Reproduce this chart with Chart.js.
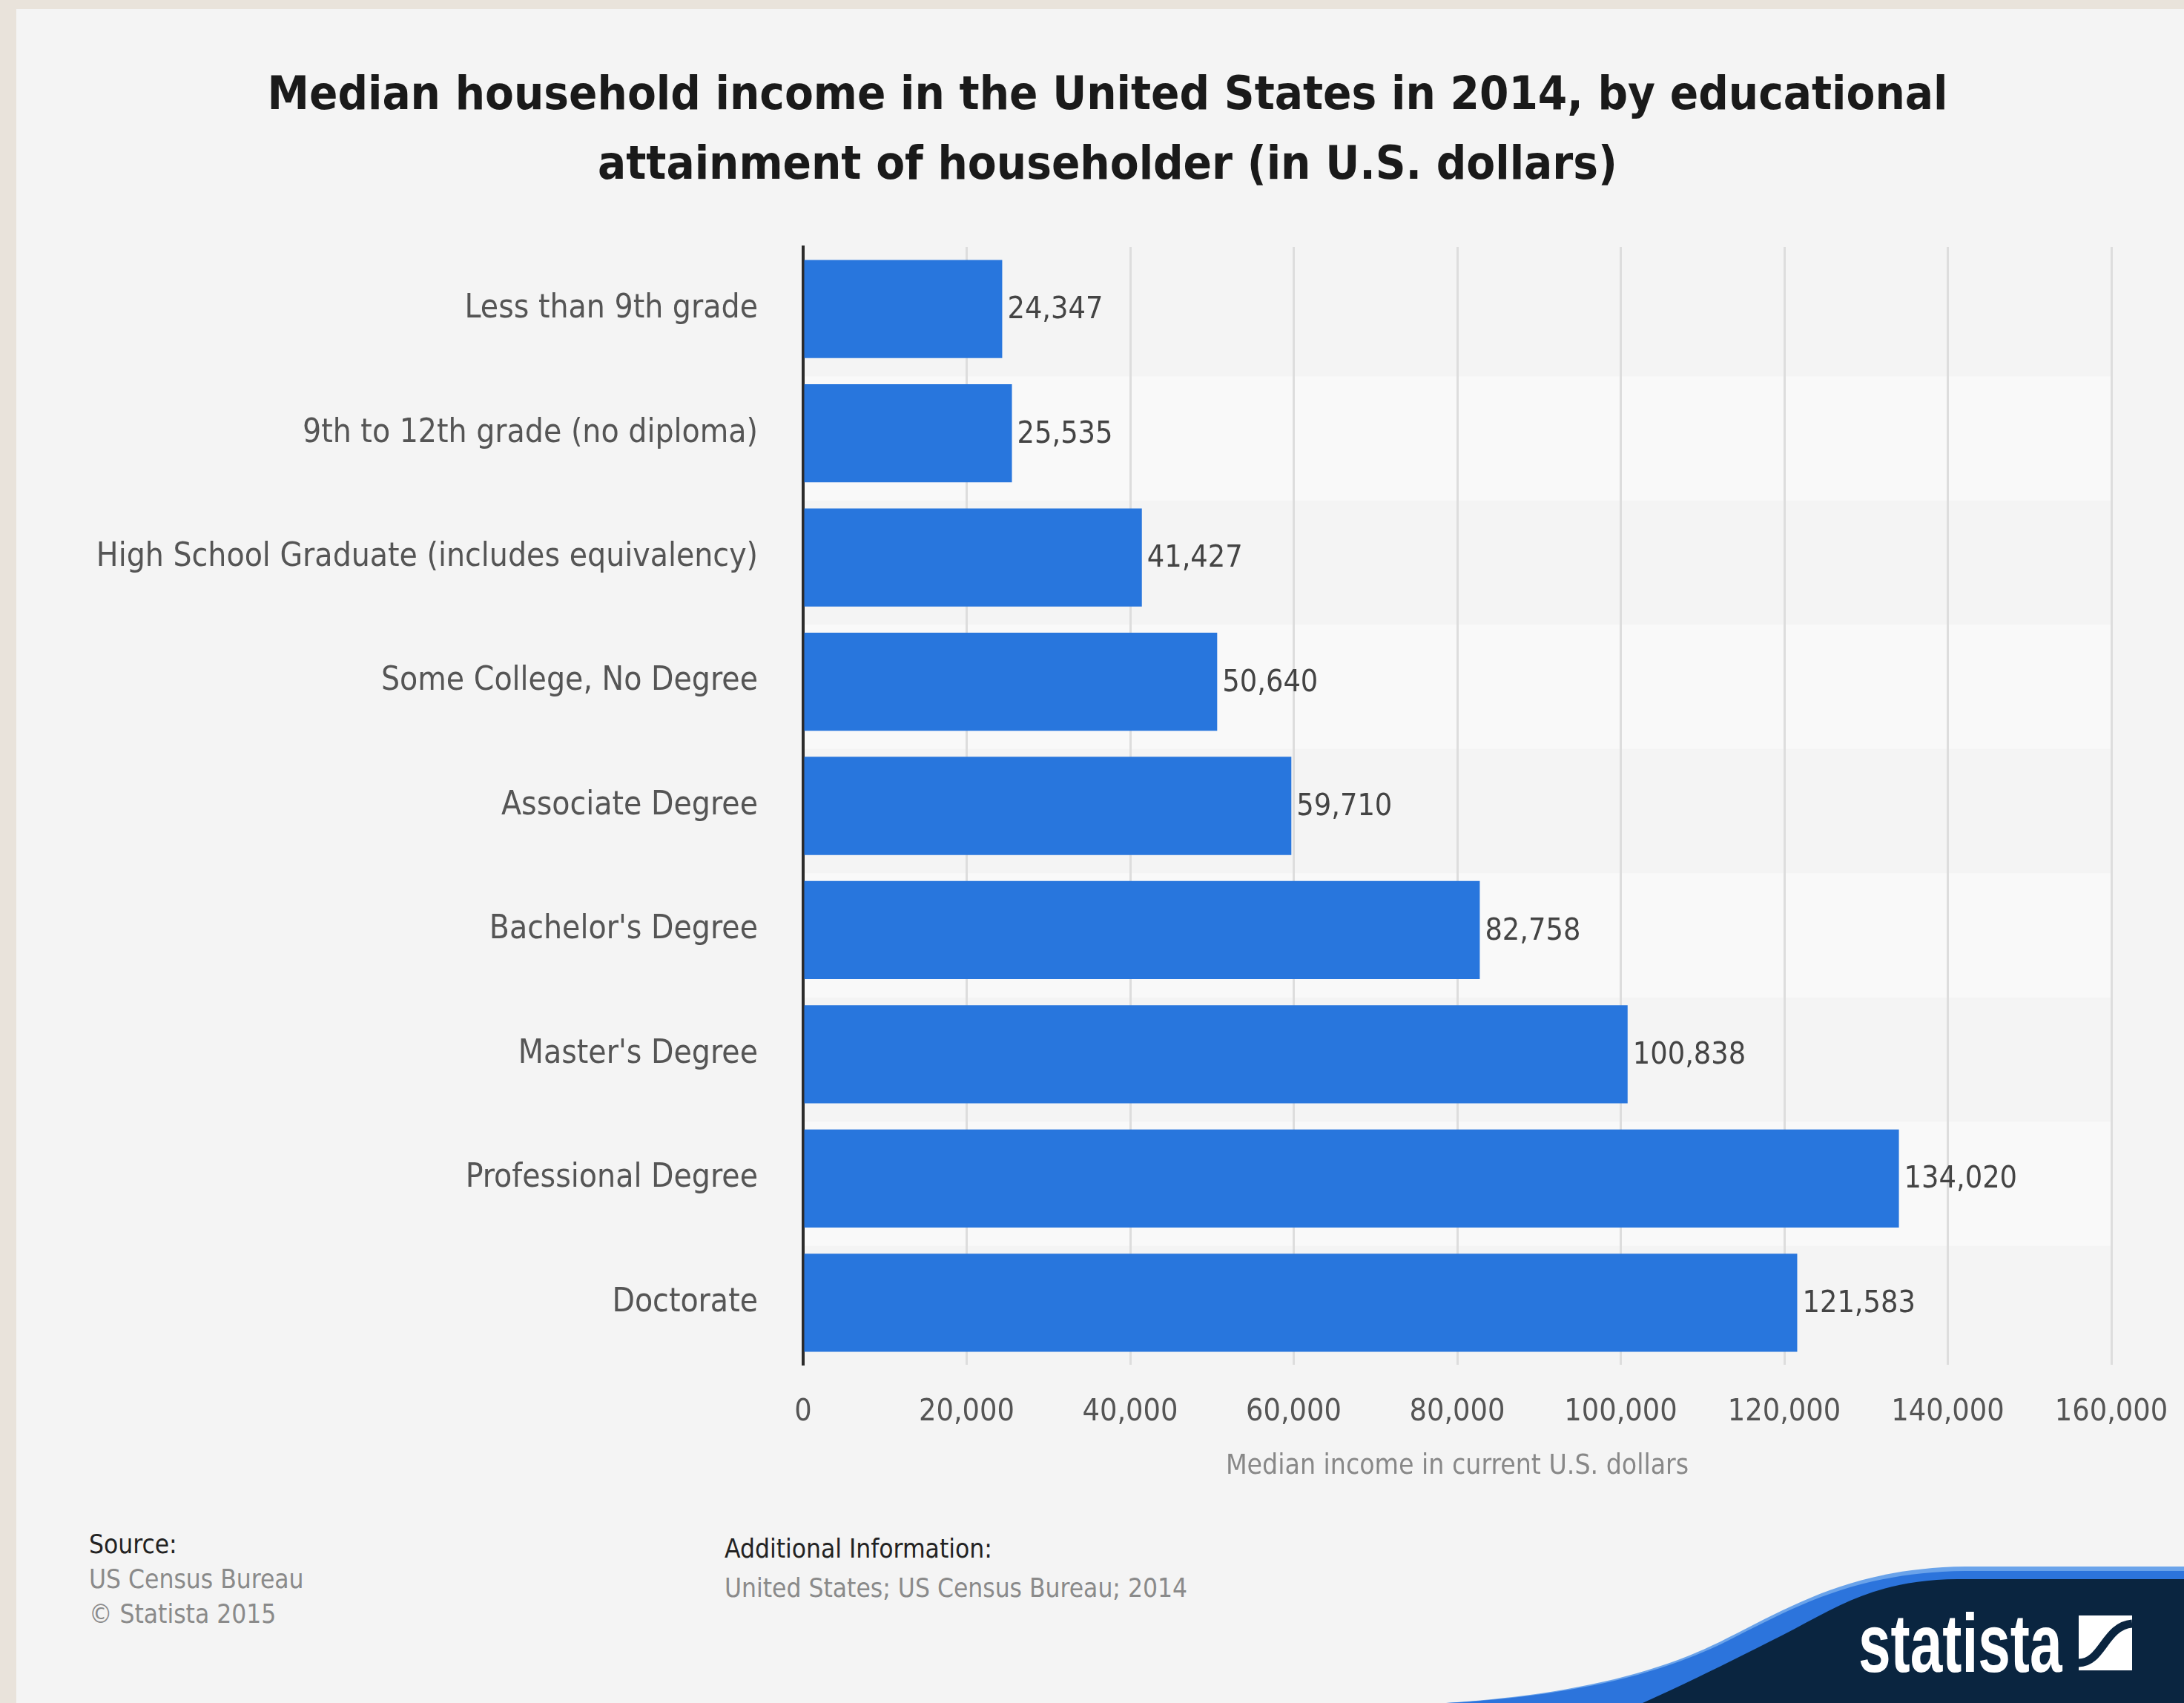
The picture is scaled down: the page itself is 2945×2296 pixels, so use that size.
<!DOCTYPE html>
<html>
<head>
<meta charset="utf-8">
<script src="https://cdn.jsdelivr.net/npm/chart.js@4.4.1/dist/chart.umd.min.js"></script>
<style>
  html, body { margin: 0; padding: 0; }
  body {
    width: 2945px; height: 2296px; position: relative; overflow: hidden;
    background: #e9e3db;
    font-family: "DejaVu Sans Condensed", "DejaVu Sans", sans-serif;
    font-stretch: condensed;
  }
  #panel { position: absolute; left: 22px; top: 12px; right: 0; bottom: 0; background: #f4f4f4; }
  #title {
    position: absolute; left: 32px; width: 2923px; top: 79px;
    text-align: center; font-weight: bold; font-size: 63px; line-height: 94px; color: #1a1a1a;
  }
  #chartBox { position: absolute; left: 0; top: 248px; width: 2945px; height: 1752px; }
  .foot { position: absolute; font-size: 35px; color: #8a8a8a; white-space: nowrap; }
  .foot .head { color: #222; }
  #logo { position: absolute; left: 0; top: 0; }
  #brand {
    position: absolute; left: 2506px; top: 2160px; font-family: "Liberation Sans", Arial, sans-serif;
    font-weight: bold; font-size: 112px; line-height: 112px; color: #fff;
    transform: scaleX(0.7); transform-origin: left top; font-stretch: normal;
  }
</style>
</head>
<body>
<div id="panel"></div>
<div id="title">Median household income in the United States in 2014, by educational<br>attainment of householder (in U.S. dollars)</div>
<div id="chartBox"><canvas id="chart" width="2945" height="1752"></canvas></div>

<div class="foot" style="left:120px; top:2059px; line-height:47px;">
  <div class="head">Source:</div>
  <div>US Census Bureau</div>
  <div>© Statista 2015</div>
</div>
<div class="foot" style="left:977px; top:2062px; line-height:53px;">
  <div class="head">Additional Information:</div>
  <div>United States; US Census Bureau; 2014</div>
</div>

<svg id="logo" width="2945" height="2296" viewBox="0 0 2945 2296">
  <path d="M1950 2296 C2120 2285 2240 2255 2330 2208 C2420 2163 2500 2114 2650 2112 L2945 2112 L2945 2296 Z" fill="#6aa3ea"/>
  <path d="M1950 2296 C2120 2287 2240 2257 2330 2212 C2420 2167 2500 2120 2650 2118 L2945 2118 L2945 2296 Z" fill="#2c74dc"/>
  <path d="M2215 2296 C2290 2262 2350 2232 2420 2196 C2490 2158 2540 2130 2640 2129 L2945 2129 L2945 2296 Z" fill="#0a2540"/>
  <rect x="2803" y="2178" width="72" height="74" fill="#ffffff"/>
  <path d="M2803 2242 C2835 2242 2838 2192 2875 2189" stroke="#0a2540" stroke-width="11" fill="none"/>
</svg>
<div id="brand">statista</div>

<script>
const categories = [
  "Less than 9th grade",
  "9th to 12th grade (no diploma)",
  "High School Graduate (includes equivalency)",
  "Some College, No Degree",
  "Associate Degree",
  "Bachelor's Degree",
  "Master's Degree",
  "Professional Degree",
  "Doctorate"
];
const incomes = [24347, 25535, 41427, 50640, 59710, 82758, 100838, 134020, 121583];
const xTicks = [0, 20000, 40000, 60000, 80000, 100000, 120000, 140000, 160000];

const fontFamily = "'DejaVu Sans Condensed', 'DejaVu Sans', sans-serif";

// light stripes on every second row
const stripes = {
  id: "stripes",
  beforeDraw(chart) {
    const { ctx, chartArea } = chart;
    const band = (chartArea.bottom - chartArea.top) / categories.length;
    const y = chart.scales.y;
    ctx.save();
    ctx.fillStyle = "#f9f9f9";
    categories.forEach((c, i) => {
      if (i % 2 === 1) {
        const mid = y.getPixelForValue(i);
        ctx.fillRect(chartArea.left, mid - band / 2 + 7, chartArea.right - chartArea.left, band);
      }
    });
    ctx.restore();
  }
};

// value labels at the end of each bar
const valueLabels = {
  id: "valueLabels",
  afterDatasetsDraw(chart) {
    const ctx = chart.ctx;
    const meta = chart.getDatasetMeta(0);
    ctx.save();
    ctx.font = "41px " + fontFamily;
    ctx.fillStyle = "#444";
    ctx.textBaseline = "middle";
    ctx.textAlign = "left";
    meta.data.forEach((bar, i) => {
      ctx.fillText(incomes[i].toLocaleString("en-US"), bar.x + 7, bar.y + 2);
    });
    ctx.restore();
  }
};

new Chart(document.getElementById("chart"), {
  type: "bar",
  data: {
    labels: categories,
    datasets: [{
      data: incomes,
      backgroundColor: "#2876dd",
      borderWidth: 0,
      barPercentage: 0.79,
      categoryPercentage: 1
    }]
  },
  options: {
    indexAxis: "y",
    responsive: false,
    animation: false,
    devicePixelRatio: 1,
    layout: { padding: { top: 85, right: 98, left: 0, bottom: 0 } },
    plugins: { legend: { display: false }, tooltip: { enabled: false } },
    scales: {
      x: {
        min: 0,
        max: 160000,
        afterBuildTicks(scale) { scale.ticks = xTicks.map(v => ({ value: v })); },
        afterFit(scale) {
          scale.height = 160;
          scale.paddingLeft = 0;
          scale.paddingRight = 0;
        },
        grid: { color: "#dddddd", lineWidth: 3, drawTicks: false },
        border: { display: false },
        ticks: {
          padding: 40,
          color: "#555",
          font: { family: fontFamily, size: 41 },
          maxRotation: 0,
          callback: v => v.toLocaleString("en-US")
        },
        title: {
          display: true,
          text: "Median income in current U.S. dollars",
          color: "#888",
          font: { family: fontFamily, size: 37 },
          padding: { top: 0, bottom: 0 }
        }
      },
      y: {
        z: 1,
        afterFit(scale) {
          scale.width = 1083;
          scale.paddingTop = 0;
          scale.paddingBottom = 0;
        },
        grid: { display: false, drawTicks: false },
        border: { color: "#2b2b2b", width: 4 },
        ticks: {
          padding: 61,
          color: "#555",
          font: { family: fontFamily, size: 44 },
          autoSkip: false
        }
      }
    }
  },
  plugins: [stripes, valueLabels]
});
</script>
</body>
</html>
